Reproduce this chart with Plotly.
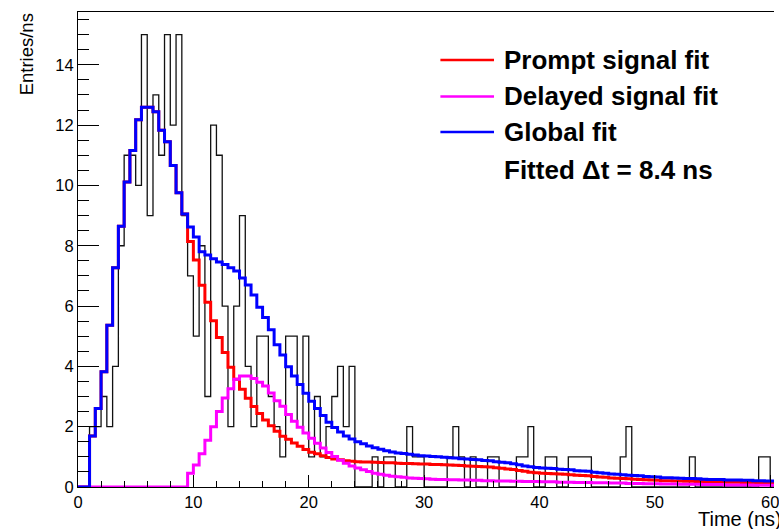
import numpy as np
import plotly.graph_objects as go

# Histogram binning (ns)
bin_width = 0.5
x_start = 0.0

# Measured time distribution, entries/ns per 0.5 ns bin starting at 0 ns
data_counts = [
    0, 0, 2, 2, 3, 2, 4, 8, 11, 11,
    10, 15, 9, 13, 11, 15, 12, 15, 9, 7,
    5, 8, 3, 12, 11, 6, 2, 6, 9, 4,
    2, 5, 5, 3, 2, 1, 5, 5, 2, 5,
    1, 3, 1, 2, 3, 4, 2, 4, 0, 0,
    0, 1, 0, 1, 1, 0, 0, 2, 1, 1,
    0, 0, 0, 0, 1, 2, 1, 0, 1, 0,
    0, 1, 1, 0, 0, 0, 1, 1, 2, 0,
    0, 1, 1, 0, 0, 1, 1, 1, 1, 0,
    0, 0, 0, 0, 1, 2, 0, 0, 0, 0,
    0, 0, 0, 0, 0, 0, 1, 0, 0, 0,
    0, 0, 0, 0, 0, 0, 0, 0, 1, 1,
    0,
]

# Prompt signal fit
prompt_fit = [
    0, 0, 1.69, 2.60, 3.82, 5.36, 7.27, 8.65, 10.11, 11.16,
    12.18, 12.59, 12.59, 12.44, 11.83, 11.45, 10.66, 9.76, 9.05, 8.14,
    7.53, 6.69, 6.13, 5.51, 4.96, 4.46, 3.97, 3.57, 3.24, 2.94,
    2.67, 2.44, 2.22, 2.03, 1.85, 1.68, 1.58, 1.46, 1.35, 1.24,
    1.15, 1.10, 1.04, 0.98, 0.93, 0.90, 0.87, 0.85, 0.84, 0.83,
    0.83, 0.82, 0.81, 0.80, 0.80, 0.79, 0.78, 0.78, 0.77, 0.76,
    0.76, 0.75, 0.75, 0.74, 0.73, 0.72, 0.71, 0.70, 0.69, 0.68,
    0.67, 0.66, 0.64, 0.62, 0.60, 0.58, 0.55, 0.52, 0.49, 0.47,
    0.46, 0.45, 0.44, 0.43, 0.42, 0.41, 0.39, 0.38, 0.37, 0.35,
    0.33, 0.32, 0.30, 0.29, 0.28, 0.27, 0.26, 0.25, 0.24, 0.23,
    0.22, 0.21, 0.21, 0.20, 0.20, 0.19, 0.19, 0.18, 0.18, 0.17,
    0.17, 0.17, 0.16, 0.16, 0.16, 0.15, 0.15, 0.15, 0.15, 0.14,
    0.14,
]

# Delayed signal fit
delayed_fit = [
    0, 0, 0, 0, 0, 0, 0, 0, 0, 0,
    0, 0, 0, 0, 0, 0, 0, 0, 0, 0.46,
    0.73, 1.10, 1.55, 2.00, 2.50, 2.95, 3.26, 3.57, 3.68, 3.68,
    3.60, 3.47, 3.35, 3.12, 2.86, 2.68, 2.40, 2.18, 1.98, 1.79,
    1.62, 1.45, 1.29, 1.14, 1.01, 0.89, 0.79, 0.70, 0.63, 0.57,
    0.51, 0.46, 0.42, 0.39, 0.36, 0.34, 0.32, 0.30, 0.29, 0.28,
    0.27, 0.26, 0.25, 0.25, 0.24, 0.24, 0.23, 0.23, 0.22, 0.22,
    0.21, 0.21, 0.20, 0.20, 0.20, 0.19, 0.19, 0.18, 0.18, 0.18,
    0.17, 0.17, 0.17, 0.16, 0.16, 0.16, 0.15, 0.15, 0.15, 0.14,
    0.14, 0.14, 0.13, 0.13, 0.13, 0.12, 0.12, 0.12, 0.11, 0.11,
    0.11, 0.10, 0.10, 0.10, 0.09, 0.09, 0.09, 0.09, 0.08, 0.08,
    0.08, 0.08, 0.07, 0.07, 0.07, 0.07, 0.07, 0.06, 0.06, 0.06,
    0.06,
]

# Global fit (prompt + delayed)
global_fit = [
    0, 0, 1.69, 2.60, 3.82, 5.36, 7.27, 8.65, 10.11, 11.16,
    12.18, 12.59, 12.59, 12.44, 11.83, 11.45, 10.66, 9.76, 9.05, 8.62,
    8.29, 7.80, 7.69, 7.57, 7.46, 7.38, 7.27, 7.16, 6.93, 6.70,
    6.37, 5.96, 5.62, 5.21, 4.72, 4.38, 3.99, 3.68, 3.40, 3.11,
    2.84, 2.60, 2.37, 2.15, 1.97, 1.82, 1.69, 1.59, 1.50, 1.43,
    1.36, 1.30, 1.25, 1.20, 1.16, 1.13, 1.11, 1.09, 1.06, 1.04,
    1.03, 1.01, 1.00, 0.99, 0.97, 0.96, 0.94, 0.93, 0.91, 0.90,
    0.88, 0.87, 0.84, 0.82, 0.80, 0.77, 0.74, 0.70, 0.67, 0.65,
    0.63, 0.62, 0.61, 0.59, 0.58, 0.57, 0.54, 0.53, 0.52, 0.49,
    0.47, 0.46, 0.43, 0.42, 0.41, 0.39, 0.38, 0.37, 0.35, 0.34,
    0.33, 0.31, 0.31, 0.30, 0.29, 0.28, 0.28, 0.27, 0.26, 0.25,
    0.25, 0.25, 0.23, 0.23, 0.23, 0.22, 0.22, 0.21, 0.21, 0.20,
    0.20,
]

legend_labels = ["Prompt signal fit", "Delayed signal fit", "Global fit"]
fit_text = "Fitted \u0394t = 8.4 ns"
x_title = "Time (ns)"
y_title = "Entries/ns"

W, H = 779, 529
L, R, T, B = 78, 0, 12, 42
XMAX = 60.33
YMAX = 15.75

FONT = "Liberation Sans, Arial, Helvetica, sans-serif"


def step_xy(values):
    n = len(values)
    edges = x_start + bin_width * np.arange(n + 1)
    y = list(values) + [values[-1]]
    return edges, y


def px_to_paper(px, py):
    return (px - L) / (W - L - R), (H - B - py) / (H - T - B)


fig = go.Figure()

ex, ey = step_xy(data_counts)
fig.add_trace(go.Scatter(x=ex, y=ey, mode="lines", line=dict(color="#111111", width=1.3, shape="hv"),
                         showlegend=False, hoverinfo="skip"))

series = [
    (prompt_fit, "#ff0000"),
    (delayed_fit, "#ff00ff"),
    (global_fit, "#0000ff"),
]
for vals, col in series:
    sx, sy = step_xy(vals)
    fig.add_trace(go.Scatter(x=sx, y=sy, mode="lines", line=dict(color=col, width=3, shape="hv"),
                             showlegend=False, hoverinfo="skip"))

# Legend drawn inside the frame
legend_rows = [60, 96.5, 132]
legend_colors = ["#ff0000", "#ff00ff", "#0000ff"]
shapes = []
annotations = []
for row_y, col, lab in zip(legend_rows, legend_colors, legend_labels):
    x0, y0 = px_to_paper(443, row_y)
    x1, _ = px_to_paper(497, row_y)
    shapes.append(dict(type="line", xref="paper", yref="paper", x0=x0, x1=x1, y0=y0, y1=y0,
                       line=dict(color=col, width=2.5)))
    tx, ty = px_to_paper(505, row_y)
    annotations.append(dict(text=lab, xref="paper", yref="paper", x=tx, y=ty, xanchor="left",
                            yanchor="middle", showarrow=False,
                            font=dict(family=FONT, size=26, color="black", weight="bold")))
tx, ty = px_to_paper(505, 170)
annotations.append(dict(text=fit_text, xref="paper", yref="paper", x=tx, y=ty, xanchor="left",
                        yanchor="middle", showarrow=False,
                        font=dict(family=FONT, size=26, color="black", weight="bold")))

# Axis titles placed at the axis ends
ax, ay = px_to_paper(27, 11)
annotations.append(dict(text=y_title, xref="paper", yref="paper", x=ax, y=ay, xanchor="center",
                        yanchor="top", textangle=-90, showarrow=False,
                        font=dict(family=FONT, size=18.5, color="black")))
ax, ay = px_to_paper(700, 519)
annotations.append(dict(text=x_title, xref="paper", yref="paper", x=ax, y=ay, xanchor="left",
                        yanchor="middle", showarrow=False,
                        font=dict(family=FONT, size=20, color="black")))

fig.update_layout(
    width=W, height=H,
    margin=dict(l=L, r=R, t=T, b=B),
    paper_bgcolor="white", plot_bgcolor="white",
    font=dict(family=FONT, color="black"),
    shapes=shapes, annotations=annotations,
    showlegend=False,
)
fig.update_xaxes(
    range=[0, XMAX], showgrid=False, zeroline=False,
    showline=True, linecolor="black", linewidth=1, mirror=True,
    ticks="inside", ticklen=12, tickwidth=1, tickcolor="black",
    tick0=0, dtick=10, tickfont=dict(size=16.5, family=FONT),
    ticklabeloverflow="allow",
    minor=dict(ticks="inside", ticklen=6, dtick=2, tickcolor="black", tickwidth=1),
)
fig.update_yaxes(
    range=[0, YMAX], showgrid=False, zeroline=False,
    showline=True, linecolor="black", linewidth=1,
    ticks="inside", ticklen=21, tickwidth=1, tickcolor="black",
    tick0=0, dtick=2, tickfont=dict(size=16.5, family=FONT),
    minor=dict(ticks="inside", ticklen=11, dtick=0.5, tickcolor="black", tickwidth=1),
)

fig.write_html("out.html")
